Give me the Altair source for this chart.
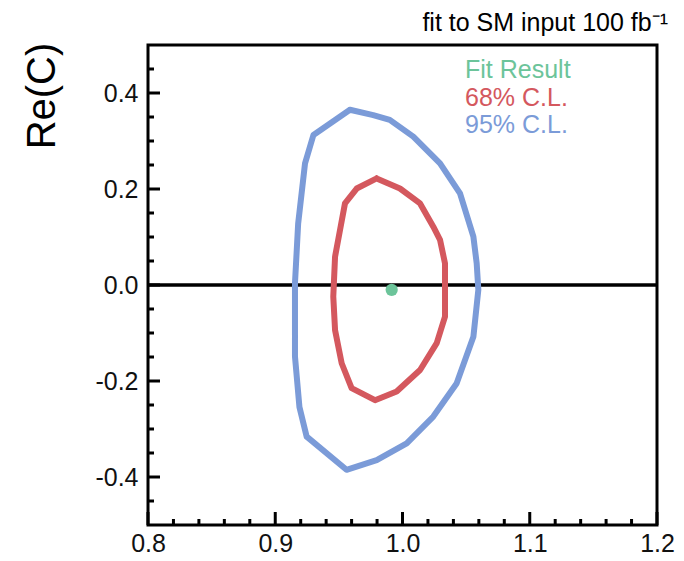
import altair as alt
import pandas as pd

# 95% C.L. contour (closed)
blue_x = [0.9587, 0.977, 0.990, 1.0085, 1.0295, 1.0452, 1.0557, 1.0583, 1.0596, 1.0557,
          1.0425, 1.0242, 1.0033, 0.9797, 0.956, 0.9247, 0.919, 0.9155, 0.9155, 0.918,
          0.9234, 0.930, 0.9587]
blue_y = [0.365, 0.354, 0.344, 0.309, 0.2535, 0.191, 0.101, 0.045, -0.010, -0.108,
          -0.205, -0.274, -0.330, -0.365, -0.385, -0.316, -0.254, -0.149, 0.0035, 0.128,
          0.2535, 0.3125, 0.365]
# 68% C.L. contour (closed)
red_x = [0.9797, 0.998, 1.0138, 1.0242, 1.0295, 1.0334, 1.0334, 1.0269, 1.0138, 0.9954,
         0.9784, 0.960, 0.9522, 0.947, 0.9456, 0.947, 0.9509, 0.9548, 0.964, 0.9797]
red_y = [0.222, 0.201, 0.170, 0.1215, 0.094, 0.045, -0.066, -0.121, -0.177, -0.222,
         -0.240, -0.215, -0.163, -0.094, -0.024, 0.059, 0.1146, 0.170, 0.201, 0.222]
# Fit result
fit_x = [0.9915]
fit_y = [-0.010]

x_major = [0.8, 0.9, 1.0, 1.1, 1.2]
x_minor = [0.82, 0.84, 0.86, 0.88, 0.92, 0.94, 0.96, 0.98, 1.02, 1.04, 1.06, 1.08,
           1.12, 1.14, 1.16, 1.18]
y_major = [-0.4, -0.2, 0.0, 0.2, 0.4]
y_minor = [-0.45, -0.35, -0.3, -0.25, -0.15, -0.1, -0.05, 0.05, 0.1, 0.15, 0.25, 0.3,
           0.35, 0.45]

legend_labels = ["Fit Result", "68% C.L.", "95% C.L."]
title_text = "fit to SM input 100 fb\u207b\u00b9"
y_title = "Re(C)"

BLUE = "#7b9bd8"
RED = "#d4585e"
GREEN = "#6cc49a"
FONT = "Liberation Sans"
W, H = 509, 480

xs = alt.Scale(domain=[0.8, 1.2], nice=False, zero=False)
ys = alt.Scale(domain=[-0.5, 0.5], nice=False, zero=False)

label_expr = "datum.value < 0 ? '-' + format(-datum.value, '.1f') : format(datum.value, '.1f')"
x_axis = alt.Axis(values=x_major, labelExpr=label_expr, ticks=False, domain=False, grid=False,
                  title=None, labelFontSize=25, labelFont=FONT, labelColor="#111",
                  labelPadding=6, labelFlush=False, labelOverlap=False)
y_axis = alt.Axis(values=y_major, labelExpr=label_expr, ticks=False, domain=False, grid=False,
                  title=None, labelFontSize=25, labelFont=FONT, labelColor="#111",
                  labelPadding=10, labelOverlap=False)

blue_df = pd.DataFrame({"x": blue_x, "y": blue_y, "i": range(len(blue_x))})
red_df = pd.DataFrame({"x": red_x, "y": red_y, "i": range(len(red_x))})
fit_df = pd.DataFrame({"x": fit_x, "y": fit_y})

base = alt.Chart(blue_df).mark_line(strokeWidth=6, color=BLUE, strokeJoin="round", strokeCap="round").encode(
    x=alt.X("x:Q", scale=xs, axis=x_axis),
    y=alt.Y("y:Q", scale=ys, axis=y_axis),
    order="i:Q",
)
red = alt.Chart(red_df).mark_line(strokeWidth=6, color=RED, strokeJoin="round", strokeCap="round").encode(
    x=alt.X("x:Q", scale=xs), y=alt.Y("y:Q", scale=ys), order="i:Q"
)
fit = alt.Chart(fit_df).mark_point(filled=True, size=150, color=GREEN, opacity=1).encode(
    x=alt.X("x:Q", scale=xs), y=alt.Y("y:Q", scale=ys)
)
zero = alt.Chart(pd.DataFrame({"y": [0.0]})).mark_rule(color="black", strokeWidth=3.5).encode(
    y=alt.Y("y:Q", scale=ys)
)

xmaj = alt.Chart(pd.DataFrame({"x": x_major})).mark_rule(color="black", strokeWidth=3).encode(
    x=alt.X("x:Q", scale=xs), y=alt.value(H), y2=alt.value(H - 13)
)
xmin = alt.Chart(pd.DataFrame({"x": x_minor})).mark_rule(color="black", strokeWidth=3).encode(
    x=alt.X("x:Q", scale=xs), y=alt.value(H), y2=alt.value(H - 6)
)
ymaj = alt.Chart(pd.DataFrame({"y": y_major})).mark_rule(color="black", strokeWidth=3).encode(
    y=alt.Y("y:Q", scale=ys), x=alt.value(0), x2=alt.value(12)
)
ymin = alt.Chart(pd.DataFrame({"y": y_minor})).mark_rule(color="black", strokeWidth=3).encode(
    y=alt.Y("y:Q", scale=ys), x=alt.value(0), x2=alt.value(6)
)

leg_colors = [GREEN, RED, BLUE]
leg_y = [33, 61, 88]
legend_layers = [
    alt.Chart(pd.DataFrame({"t": [lab]})).mark_text(
        align="left", baseline="alphabetic", fontSize=25, font=FONT, color=c
    ).encode(text="t:N", x=alt.value(317), y=alt.value(yy))
    for lab, c, yy in zip(legend_labels, leg_colors, leg_y)
]

title = alt.Chart(pd.DataFrame({"t": [title_text]})).mark_text(
    align="right", baseline="alphabetic", fontSize=25, font=FONT, color="black"
).encode(text="t:N", x=alt.value(520), y=alt.value(-14))

ytitle = alt.Chart(pd.DataFrame({"t": [y_title]})).mark_text(
    align="center", baseline="alphabetic", fontSize=40, font=FONT, color="black", angle=270
).encode(text="t:N", x=alt.value(-93), y=alt.value(51))

chart = alt.layer(
    xmaj, xmin, ymaj, ymin, zero, base, red, fit, *legend_layers, title, ytitle
).properties(
    width=W, height=H,
    autosize=alt.AutoSizeParams(type="none"),
    padding={"left": 140, "top": 37, "right": 19, "bottom": 37},
).configure(background="white").configure_view(stroke="black", strokeWidth=3)

chart.save("out.html", embed_options={"renderer": "svg", "actions": False})
